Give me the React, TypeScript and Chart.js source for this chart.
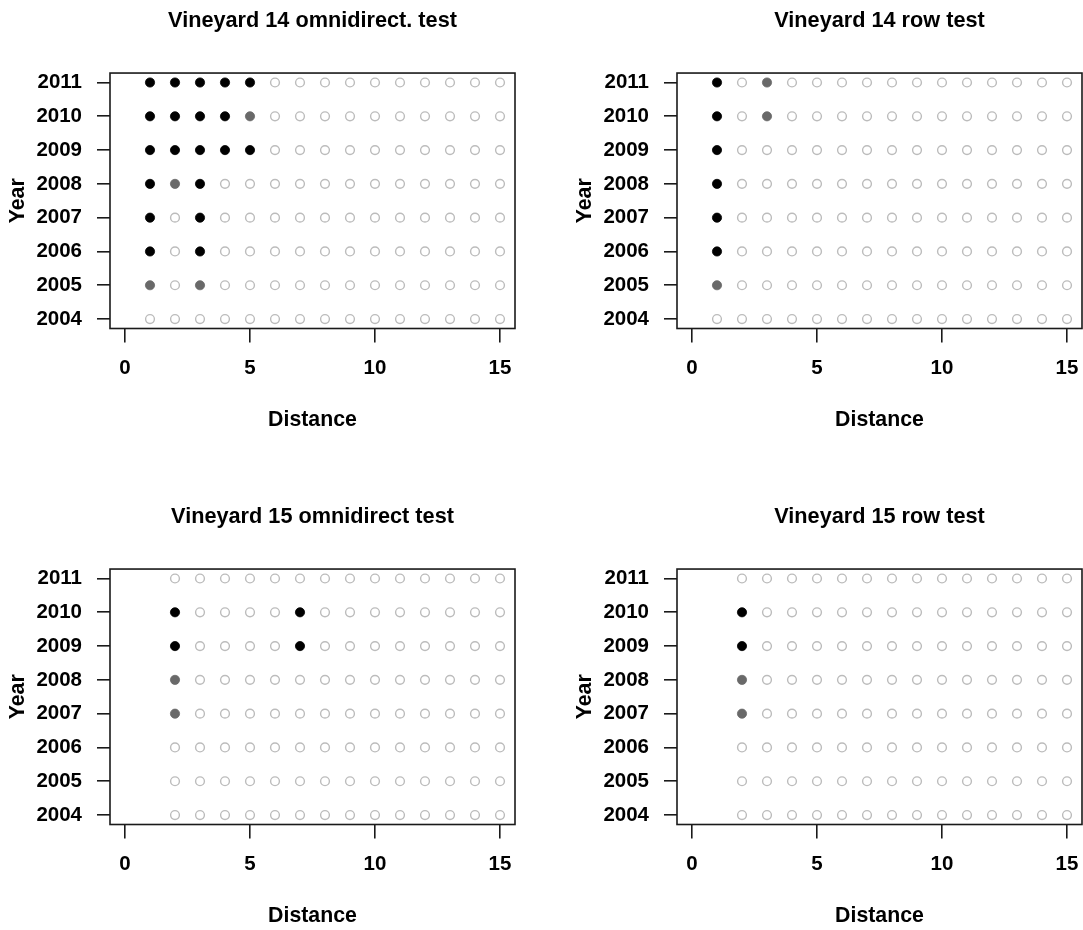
import React, { useEffect, useRef } from "react";
import { Chart, registerables } from "chart.js";

Chart.register(...registerables);

// ---------- data ----------
const years = [2004, 2005, 2006, 2007, 2008, 2009, 2010, 2011];
const xTickValues = [0, 5, 10, 15];
const yTickValues = [2004, 2005, 2006, 2007, 2008, 2009, 2010, 2011];

const distances14 = [1, 2, 3, 4, 5, 6, 7, 8, 9, 10, 11, 12, 13, 14, 15];
const distances15 = [2, 3, 4, 5, 6, 7, 8, 9, 10, 11, 12, 13, 14, 15];

// status per year row (2004 -> 2011) and distance: 2 = black, 1 = grey, 0 = open circle
const v14Omni = [
  [0, 0, 0, 0, 0, 0, 0, 0, 0, 0, 0, 0, 0, 0, 0], // 2004
  [1, 0, 1, 0, 0, 0, 0, 0, 0, 0, 0, 0, 0, 0, 0], // 2005
  [2, 0, 2, 0, 0, 0, 0, 0, 0, 0, 0, 0, 0, 0, 0], // 2006
  [2, 0, 2, 0, 0, 0, 0, 0, 0, 0, 0, 0, 0, 0, 0], // 2007
  [2, 1, 2, 0, 0, 0, 0, 0, 0, 0, 0, 0, 0, 0, 0], // 2008
  [2, 2, 2, 2, 2, 0, 0, 0, 0, 0, 0, 0, 0, 0, 0], // 2009
  [2, 2, 2, 2, 1, 0, 0, 0, 0, 0, 0, 0, 0, 0, 0], // 2010
  [2, 2, 2, 2, 2, 0, 0, 0, 0, 0, 0, 0, 0, 0, 0], // 2011
];

const v14Row = [
  [0, 0, 0, 0, 0, 0, 0, 0, 0, 0, 0, 0, 0, 0, 0], // 2004
  [1, 0, 0, 0, 0, 0, 0, 0, 0, 0, 0, 0, 0, 0, 0], // 2005
  [2, 0, 0, 0, 0, 0, 0, 0, 0, 0, 0, 0, 0, 0, 0], // 2006
  [2, 0, 0, 0, 0, 0, 0, 0, 0, 0, 0, 0, 0, 0, 0], // 2007
  [2, 0, 0, 0, 0, 0, 0, 0, 0, 0, 0, 0, 0, 0, 0], // 2008
  [2, 0, 0, 0, 0, 0, 0, 0, 0, 0, 0, 0, 0, 0, 0], // 2009
  [2, 0, 1, 0, 0, 0, 0, 0, 0, 0, 0, 0, 0, 0, 0], // 2010
  [2, 0, 1, 0, 0, 0, 0, 0, 0, 0, 0, 0, 0, 0, 0], // 2011
];

const v15Omni = [
  [0, 0, 0, 0, 0, 0, 0, 0, 0, 0, 0, 0, 0, 0], // 2004
  [0, 0, 0, 0, 0, 0, 0, 0, 0, 0, 0, 0, 0, 0], // 2005
  [0, 0, 0, 0, 0, 0, 0, 0, 0, 0, 0, 0, 0, 0], // 2006
  [1, 0, 0, 0, 0, 0, 0, 0, 0, 0, 0, 0, 0, 0], // 2007
  [1, 0, 0, 0, 0, 0, 0, 0, 0, 0, 0, 0, 0, 0], // 2008
  [2, 0, 0, 0, 0, 2, 0, 0, 0, 0, 0, 0, 0, 0], // 2009
  [2, 0, 0, 0, 0, 2, 0, 0, 0, 0, 0, 0, 0, 0], // 2010
  [0, 0, 0, 0, 0, 0, 0, 0, 0, 0, 0, 0, 0, 0], // 2011
];

const v15Row = [
  [0, 0, 0, 0, 0, 0, 0, 0, 0, 0, 0, 0, 0, 0], // 2004
  [0, 0, 0, 0, 0, 0, 0, 0, 0, 0, 0, 0, 0, 0], // 2005
  [0, 0, 0, 0, 0, 0, 0, 0, 0, 0, 0, 0, 0, 0], // 2006
  [1, 0, 0, 0, 0, 0, 0, 0, 0, 0, 0, 0, 0, 0], // 2007
  [1, 0, 0, 0, 0, 0, 0, 0, 0, 0, 0, 0, 0, 0], // 2008
  [2, 0, 0, 0, 0, 0, 0, 0, 0, 0, 0, 0, 0, 0], // 2009
  [2, 0, 0, 0, 0, 0, 0, 0, 0, 0, 0, 0, 0, 0], // 2010
  [0, 0, 0, 0, 0, 0, 0, 0, 0, 0, 0, 0, 0, 0], // 2011
];

const panelTitles = [
  "Vineyard 14 omnidirect. test",
  "Vineyard 14 row test",
  "Vineyard 15 omnidirect test",
  "Vineyard 15 row test",
];
const panelDistances = [distances14, distances14, distances15, distances15];
const panelStatus = [v14Omni, v14Row, v15Omni, v15Row];

// ---------- layout / style ----------
const FONT = "'Liberation Sans', Arial, Helvetica, sans-serif";
const CANVAS_W = 560;
const CANVAS_H = 440;
const panelPos = [
  { left: 0, top: 0 },
  { left: 567, top: 0 },
  { left: 0, top: 496 },
  { left: 567, top: 496 },
];

const boxPlugin = {
  id: "plotBox",
  afterDatasetsDraw(chart: any) {
    const { ctx, chartArea } = chart;
    ctx.save();
    ctx.strokeStyle = "#1a1a1a";
    ctx.lineWidth = 1.6;
    ctx.strokeRect(
      chartArea.left,
      chartArea.top,
      chartArea.right - chartArea.left,
      chartArea.bottom - chartArea.top
    );
    ctx.restore();
  },
};

function buildConfig(idx: number): any {
  const distances = panelDistances[idx];
  const status = panelStatus[idx];
  const groups: { x: number; y: number }[][] = [[], [], []];
  years.forEach((yr, i) => {
    distances.forEach((d, j) => {
      groups[status[i][j]].push({ x: d, y: yr });
    });
  });

  return {
    type: "scatter",
    data: {
      datasets: [
        {
          data: groups[0],
          pointRadius: 4.4,
          pointBorderWidth: 1.4,
          pointBorderColor: "#bcbcbc",
          pointBackgroundColor: "rgba(255,255,255,0)",
        },
        {
          data: groups[1],
          pointRadius: 4.6,
          pointBorderWidth: 0.8,
          pointBorderColor: "#696969",
          pointBackgroundColor: "#696969",
        },
        {
          data: groups[2],
          pointRadius: 4.6,
          pointBorderWidth: 0.8,
          pointBorderColor: "#000000",
          pointBackgroundColor: "#000000",
        },
      ],
    },
    options: {
      animation: false,
      responsive: false,
      events: [],
      layout: { padding: { left: 0, right: 45, top: 0, bottom: 0 } },
      plugins: {
        legend: { display: false },
        tooltip: { enabled: false },
        title: {
          display: true,
          fullSize: false,
          text: panelTitles[idx],
          color: "#000",
          font: { family: FONT, size: 21.7, weight: "bold" },
          padding: { top: 7.7, bottom: 39.3 },
        },
      },
      scales: {
        x: {
          type: "linear",
          min: -0.6,
          max: 15.6,
          afterBuildTicks: (s: any) => {
            s.ticks = xTickValues.map((v) => ({ value: v }));
          },
          afterFit: (s: any) => {
            s.height = 111.5;
          },
          border: { display: false },
          grid: {
            drawOnChartArea: false,
            drawTicks: true,
            tickLength: 14,
            color: "#1a1a1a",
            lineWidth: 1.6,
          },
          ticks: {
            color: "#000",
            font: { family: FONT, size: 20.5, weight: "bold" },
            padding: 13.5,
            autoSkip: false,
            maxRotation: 0,
            callback: (v: any) => String(v),
          },
          title: {
            display: true,
            text: "Distance",
            color: "#000",
            font: { family: FONT, size: 21.3, weight: "bold" },
            padding: { top: 0, bottom: 7.2 },
          },
        },
        y: {
          type: "linear",
          min: 2003.72,
          max: 2011.28,
          afterBuildTicks: (s: any) => {
            s.ticks = yTickValues.map((v) => ({ value: v }));
          },
          afterFit: (s: any) => {
            s.width = 110;
          },
          border: { display: false },
          grid: {
            drawOnChartArea: false,
            drawTicks: true,
            tickLength: 13,
            color: "#1a1a1a",
            lineWidth: 1.6,
          },
          ticks: {
            color: "#000",
            font: { family: FONT, size: 20.5, weight: "bold" },
            padding: 15,
            autoSkip: false,
            callback: (v: any) => String(v),
          },
          title: {
            display: true,
            text: "Year",
            color: "#000",
            font: { family: FONT, size: 21.3, weight: "bold" },
            padding: { top: 5.2, bottom: 0 },
          },
        },
      },
    },
    plugins: [boxPlugin],
  };
}

function Panel({ idx }: { idx: number }) {
  const ref = useRef<HTMLCanvasElement>(null);
  useEffect(() => {
    const chart = new Chart(ref.current as HTMLCanvasElement, buildConfig(idx));
    return () => chart.destroy();
  }, [idx]);
  const pos = panelPos[idx];
  return (
    <canvas
      ref={ref}
      width={CANVAS_W}
      height={CANVAS_H}
      style={{
        position: "absolute",
        left: pos.left,
        top: pos.top,
        width: CANVAS_W,
        height: CANVAS_H,
      }}
    />
  );
}

export default function App() {
  return (
    <div
      style={{
        position: "absolute",
        left: 0,
        top: 0,
        width: 1083,
        height: 930,
        overflow: "hidden",
        background: "#ffffff",
      }}
    >
      {[0, 1, 2, 3].map((i) => (
        <Panel key={i} idx={i} />
      ))}
    </div>
  );
}
